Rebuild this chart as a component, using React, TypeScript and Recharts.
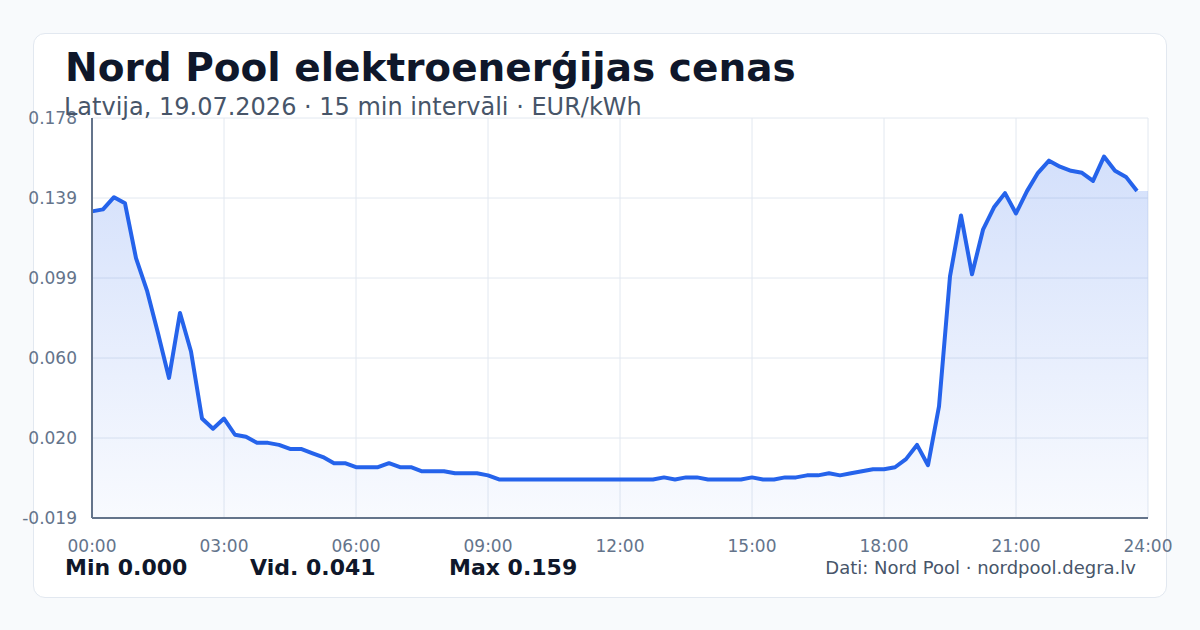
import React from "react";
import { Area, CartesianGrid, ComposedChart, Line, XAxis, YAxis } from "recharts";

// 15 minute prices, EUR/kWh, 00:00 .. 23:45
const prices = [
  0.132, 0.133, 0.139, 0.136, 0.109, 0.093, 0.072, 0.05, 0.082, 0.063, 0.03, 0.025,
  0.03, 0.022, 0.021, 0.018, 0.018, 0.017, 0.015, 0.015, 0.013, 0.011, 0.008, 0.008,
  0.006, 0.006, 0.006, 0.008, 0.006, 0.006, 0.004, 0.004, 0.004, 0.003, 0.003, 0.003,
  0.002, 0, 0, 0, 0, 0, 0, 0, 0, 0, 0, 0,
  0, 0, 0, 0, 0.001, 0, 0.001, 0.001, 0, 0, 0, 0, 0.001, 0,
  0, 0.001, 0.001, 0.002, 0.002, 0.003, 0.002, 0.003, 0.004, 0.005, 0.005, 0.006,
  0.01, 0.017, 0.007, 0.036, 0.1, 0.13, 0.101, 0.123, 0.134, 0.141, 0.131, 0.142,
  0.151, 0.157, 0.154, 0.152, 0.151, 0.147, 0.159, 0.152, 0.149, 0.142,
];

const xTicks = [0, 3, 6, 9, 12, 15, 18, 21, 24];
const yTicks = [-0.019, 0.0204, 0.0598, 0.0992, 0.1386, 0.178];

const stats = [
  { label: "Min", value: "0.000", left: 65 },
  { label: "Vid.", value: "0.041", left: 250 },
  { label: "Max", value: "0.159", left: 449 },
];

const rows = [
  ...prices.map((p, i) => ({ t: i / 4, area: p, line: p })),
  { t: 24, area: prices[prices.length - 1], line: null },
];

const FONT = "'DejaVu Sans', sans-serif";

const fmtHour = (h: number) => `${String(h).padStart(2, "0")}:00`;

export default function App() {
  return (
    <div
      style={{
        position: "absolute",
        left: 0,
        top: 0,
        width: 1200,
        height: 630,
        background: "#f8fafc",
        fontFamily: FONT,
        overflow: "hidden",
      }}
    >
      <div
        style={{
          position: "absolute",
          left: 33,
          top: 33,
          width: 1132,
          height: 563,
          background: "#ffffff",
          border: "1px solid #e2e8f0",
          borderRadius: 12,
        }}
      />
      <div
        style={{
          position: "absolute",
          left: 65,
          top: 45,
          fontSize: 39,
          fontWeight: 700,
          color: "#0f172a",
          whiteSpace: "nowrap",
        }}
      >
        Nord Pool elektroenerģijas cenas
      </div>
      <div style={{ position: "absolute", left: 0, top: 0 }}>
        <ComposedChart
          width={1200}
          height={630}
          data={rows}
          margin={{ top: 118, right: 52, bottom: 82, left: 0 }}
        >
          <defs>
            <linearGradient id="fillPrice" x1="0" y1="0" x2="0" y2="1">
              <stop offset="0%" stopColor="#2563eb" stopOpacity={0.2} />
              <stop offset="100%" stopColor="#2563eb" stopOpacity={0.03} />
            </linearGradient>
          </defs>
          <CartesianGrid stroke="#e2e8f0" strokeWidth={1} />
          <XAxis
            dataKey="t"
            type="number"
            domain={[0, 24]}
            ticks={xTicks}
            tickFormatter={fmtHour}
            height={30}
            tickLine={false}
            tickMargin={16}
            axisLine={{ stroke: "#64748b", strokeWidth: 2 }}
            tick={{ fill: "#64748b", fontSize: 17, fontFamily: FONT }}
            interval={0}
          />
          <YAxis
            type="number"
            domain={[-0.019, 0.178]}
            ticks={yTicks}
            tickFormatter={(v: number) => v.toFixed(3)}
            width={92}
            tickLine={false}
            tickMargin={9}
            axisLine={{ stroke: "#64748b", strokeWidth: 2 }}
            tick={{ fill: "#64748b", fontSize: 17, fontFamily: FONT }}
            interval={0}
            allowDataOverflow
          />
          <Area
            dataKey="area"
            type="linear"
            baseValue="dataMin"
            stroke="none"
            fill="url(#fillPrice)"
            fillOpacity={1}
            isAnimationActive={false}
            dot={false}
            activeDot={false}
          />
          <Line
            dataKey="line"
            type="linear"
            stroke="#2563eb"
            strokeWidth={4}
            strokeLinejoin="round"
            dot={false}
            activeDot={false}
            isAnimationActive={false}
          />
        </ComposedChart>
      </div>
      <div
        style={{
          position: "absolute",
          left: 64,
          top: 93,
          fontSize: 24,
          color: "#475569",
          whiteSpace: "nowrap",
        }}
      >
        Latvija, 19.07.2026 · 15 min intervāli · EUR/kWh
      </div>
      {stats.map((s) => (
        <div
          key={s.label}
          style={{
            position: "absolute",
            left: s.left,
            top: 555,
            fontSize: 22,
            fontWeight: 700,
            color: "#0f172a",
            whiteSpace: "nowrap",
          }}
        >
          {s.label} {s.value}
        </div>
      ))}
      <div
        style={{
          position: "absolute",
          right: 64,
          top: 557,
          fontSize: 18,
          color: "#475569",
          whiteSpace: "nowrap",
        }}
      >
        Dati: Nord Pool · nordpool.degra.lv
      </div>
    </div>
  );
}
